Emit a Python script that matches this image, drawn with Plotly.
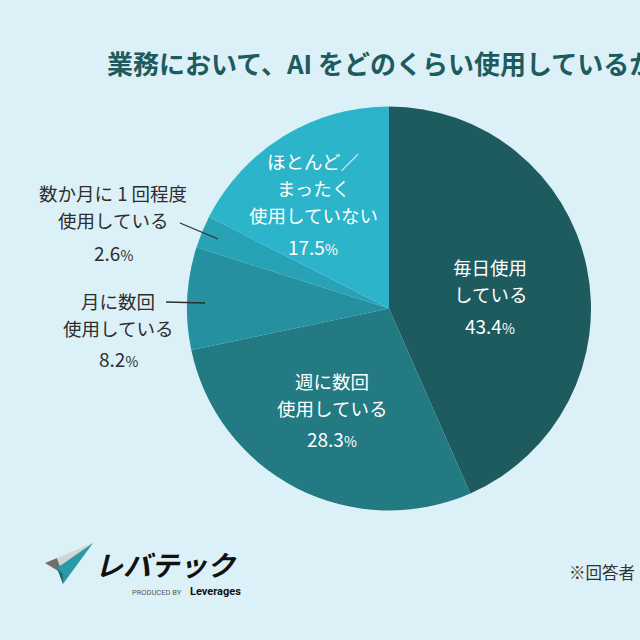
import plotly.graph_objects as go

# ---- data ----
categories = ["毎日使用している", "週に数回使用している", "月に数回使用している",
              "数か月に1回程度使用している", "ほとんど／まったく使用していない"]
values = [43.4, 28.3, 8.2, 2.6, 17.5]
colors = ["#1e5b5f", "#237a82", "#2590a0", "#28a2b5", "#2bb4ca"]

label_lines = [
    ["毎日使用", "している"],
    ["週に数回", "使用している"],
    ["月に数回", "使用している"],
    ["数か月に 1 回程度", "使用している"],
    ["ほとんど／", "まったく", "使用していない"],
]

title_text = "業務において、AI をどのくらい使用しているか？"
note_text = "※回答者"

W = H = 640
BG = "#dcf1f7"
FONT = "Noto Sans CJK JP"

def px(x):
    return x / W

def py(y):
    return 1 - y / H

fig = go.Figure()
fig.add_trace(go.Pie(
    labels=categories, values=values, sort=False, direction="clockwise",
    rotation=0, marker=dict(colors=colors, line=dict(width=0)),
    textinfo="none", hoverinfo="label+percent", showlegend=False,
    domain=dict(x=[px(187), px(591)], y=[py(510.5), py(106.5)]),
))

annos = []

def add_text(x, y, text, size=18.5, color="white", bold=False, xanchor="center"):
    annos.append(dict(
        x=px(x), y=py(y), xref="paper", yref="paper", text=text, showarrow=False,
        xanchor=xanchor, yanchor="middle",
        font=dict(family=FONT, size=size, color=color,
                  weight="bold" if bold else "normal"),
    ))

def pct(v):
    return f"{v}<span style='font-size:14px'>%</span>"

dark = "#2e2e2e"
PITCH = 27
# (index, center x, y of first line, y of percentage, color)
placements = [
    (0, 490, 267, 325, "white"),
    (1, 332, 381, 438, "white"),
    (4, 313, 161, 246, "white"),
    (3, 113, 193, 252, dark),
    (2, 118, 301, 358, dark),
]
for i, x, y0, yp, c in placements:
    for k, line in enumerate(label_lines[i]):
        add_text(x, y0 + k * PITCH, line, color=c)
    add_text(x, yp, pct(values[i]), size=19, color=c)

# title
add_text(105, 62, title_text, size=26, color="#1e5b5f", bold=True, xanchor="left")

# footnote
add_text(567, 572, note_text, size=16.5, color="#333333", xanchor="left")

# logo text
annos.append(dict(x=px(93), y=py(564), xref="paper", yref="paper", text="レバテック",
                  showarrow=False, xanchor="left", yanchor="middle",
                  font=dict(family=FONT, size=28, color="#111111", weight="bold", style="italic")))
annos.append(dict(x=px(184), y=py(592), xref="paper", yref="paper", text="PRODUCED BY",
                  showarrow=False, xanchor="right", yanchor="middle",
                  font=dict(family="Roboto", size=7.5, color="#555555")))
annos.append(dict(x=px(188), y=py(591), xref="paper", yref="paper", text="Leverages",
                  showarrow=False, xanchor="left", yanchor="middle",
                  font=dict(family="Roboto", size=11, color="#111111", weight="bold")))

shapes = []
# leader lines
for (x0, y0, x1, y1) in [(180, 223, 218, 239), (166, 302, 205, 303)]:
    shapes.append(dict(type="line", xref="paper", yref="paper",
                       x0=px(x0), y0=py(y0), x1=px(x1), y1=py(y1),
                       line=dict(color="#2e2e2e", width=1.3)))

def poly(points, color):
    d = "M " + " L ".join(f"{px(x)},{py(y)}" for x, y in points) + " Z"
    shapes.append(dict(type="path", xref="paper", yref="paper", path=d,
                       fillcolor=color, line=dict(width=0)))

# logo icon (paper plane)
poly([(45, 563), (57, 558), (63, 574)], "#6f6f6f")
poly([(57, 558), (93, 543), (63, 574)], "#d4d4d4")
poly([(57, 568), (93, 543), (63, 584)], "#2a9aa6")
poly([(57, 568), (63, 574), (63, 584)], "#1e6e78")

fig.update_layout(
    width=W, height=H, margin=dict(l=0, r=0, t=0, b=0),
    paper_bgcolor=BG, plot_bgcolor=BG,
    annotations=annos, shapes=shapes,
)

fig.write_html("out.html", config={"displayModeBar": False},
               post_script="document.body.style.margin='0';document.body.style.background='%s';" % BG)
